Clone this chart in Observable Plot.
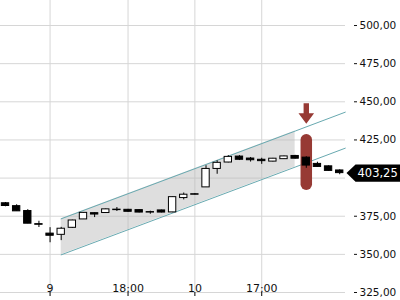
<!DOCTYPE html>
<html><head><meta charset="utf-8">
<script src="https://cdn.jsdelivr.net/npm/d3@7"></script>
<script src="https://cdn.jsdelivr.net/npm/@observablehq/plot@0.6"></script>
<style>html,body{margin:0;padding:0;background:#fff;overflow:hidden;}</style>
</head><body><div id="chart"></div>
<script>
// OHLC candles (one per period, index 0..30)
const openP  = [383.5,381.6,378.4,369.8,363.6,362.8,367.4,372.9,377.0,377.1,379.3,379.2,379.0,377.7,378.8,377.5,386.9,389.4,393.9,406.0,410.2,414.1,412.8,412.0,410.8,412.4,414.5,413.4,409.3,407.7,405.0];
const highP  = [384.0,382.5,379.3,371.7,367.5,367.7,372.4,377.4,377.2,379.7,380.7,379.5,379.2,378.3,379.0,387.7,390.2,389.8,408.1,411.3,414.7,414.7,413.5,413.0,412.9,414.4,414.9,414.0,410.4,408.0,405.4];
const lowP   = [381.2,378.2,370.1,367.6,357.6,359.0,367.0,372.9,374.1,377.0,378.1,377.6,377.2,376.3,377.2,377.3,385.7,389.0,393.9,402.5,410.0,411.5,410.5,409.0,410.6,412.2,412.5,406.4,407.0,404.5,402.2];
const closeP = [381.7,378.2,370.1,369.4,362.2,366.8,372.2,377.2,376.1,379.5,379.0,377.9,377.4,377.4,377.4,387.5,389.1,389.1,406.0,410.0,413.9,412.0,411.7,411.1,412.7,414.2,412.7,408.2,407.3,404.7,403.25];

const xTickIdx = [4, 11, 17, 23];
const xTickLabels = ["9", "18:00", "10", "17:00"];
const yTicks = [325, 350, 375, 400, 425, 450, 475, 500];

// trend channel
const channelIdx = [5, 26, 30.5];
const channelUpper = [373.3, 430.8, 443.2];
const channelLower = [349.7, 407.2, 419.6];
const fillEndIdx = 26;

// signal marker
const signalIdx = 27;
const signalBar = [395.6, 424.8];
const arrowTip = 435.6;

const fmt = d => d.toFixed(2).replace(".", ",");
const candles = openP.map((o, i) => ({i, open: o, high: highP[i], low: lowP[i], close: closeP[i]}));
const channel = channelIdx.map((x, k) => ({x, upper: channelUpper[k], lower: channelLower[k]}));
const fillPart = channel.filter(d => d.x <= fillEndIdx);
const lastClose = closeP[closeP.length - 1];
// the last-price tag hides the axis label it sits on
const yLabelTicks = yTicks.filter(d => Math.abs(d - lastClose) > 8);

const arrowSymbol = {draw(ctx) {
  ctx.moveTo(-2.7, -20.6); ctx.lineTo(2.7, -20.6); ctx.lineTo(2.7, -10.5);
  ctx.lineTo(7.8, -10.5); ctx.lineTo(0, 0); ctx.lineTo(-7.8, -10.5);
  ctx.lineTo(-2.7, -10.5); ctx.closePath();
}};
const tagSymbol = {draw(ctx) {
  ctx.moveTo(1, 0); ctx.lineTo(10, -8.7); ctx.lineTo(60, -8.7);
  ctx.lineTo(60, 8.7); ctx.lineTo(10, 8.7); ctx.closePath();
}};

const red = "#973a34";
const chart = Plot.plot({
  width: 400, height: 300,
  marginTop: 0, marginLeft: 0, marginRight: 55, marginBottom: 8,
  x: {type: "linear", domain: [-0.449, 30.52], axis: null},
  y: {domain: [325, 516.4], axis: null},
  style: {fontFamily: "'DejaVu Sans', sans-serif", fontSize: "10.5px", color: "#111", background: "#fff"},
  marks: [
    Plot.gridX(xTickIdx, {stroke: "#d6d6d6", strokeOpacity: 1}),
    Plot.gridY(yTicks, {stroke: "#d6d6d6", strokeOpacity: 1}),
    Plot.areaY(fillPart, {x: "x", y1: "lower", y2: "upper", fill: "#b9b9b9", fillOpacity: 0.47}),
    Plot.line(channel, {x: "x", y: "upper", stroke: "#68a9b0", strokeWidth: 1}),
    Plot.line(channel, {x: "x", y: "lower", stroke: "#68a9b0", strokeWidth: 1}),
    Plot.ruleX([signalIdx], {x: d => d, y1: signalBar[0], y2: signalBar[1], stroke: red, strokeWidth: 11.5, strokeLinecap: "round"}),
    Plot.dot([signalIdx], {x: d => d, y: arrowTip, symbol: arrowSymbol, fill: red, stroke: null, r: 5}),
    Plot.ruleX(candles, {x: "i", y1: "low", y2: "high", stroke: "#000", strokeWidth: 1}),
    Plot.rect(candles.filter(d => d.close > d.open), {x1: d => d.i - 0.33, x2: d => d.i + 0.33, y1: "open", y2: "close", fill: "#fff", stroke: "#000", strokeWidth: 1}),
    Plot.rect(candles.filter(d => d.close <= d.open), {x1: d => d.i - 0.33, x2: d => d.i + 0.33, y1: "open", y2: "close", fill: "#000", stroke: "#000", strokeWidth: 1}),
    Plot.axisX(xTickIdx, {tickSize: 4, tickFormat: () => "", stroke: "#000", label: null}),
    Plot.text(xTickIdx, {x: d => d, text: (d, k) => xTickLabels[k], frameAnchor: "bottom", lineAnchor: "bottom", dy: -1, fontSize: 11, fill: "#111"}),
    Plot.axisY(yLabelTicks, {anchor: "right", tickSize: 3, tickPadding: 3, dx: 8, tickFormat: fmt, label: null, fontSize: 10.5}),
    Plot.dot([lastClose], {y: d => d, frameAnchor: "right", symbol: tagSymbol, fill: "#000", stroke: null, r: 5}),
    Plot.text([lastClose], {y: d => d, frameAnchor: "right", text: d => fmt(d), dx: 12, textAnchor: "start", fill: "#fff", fontSize: 11.5})
  ]
});
document.getElementById("chart").appendChild(chart);
</script>
</body></html>
